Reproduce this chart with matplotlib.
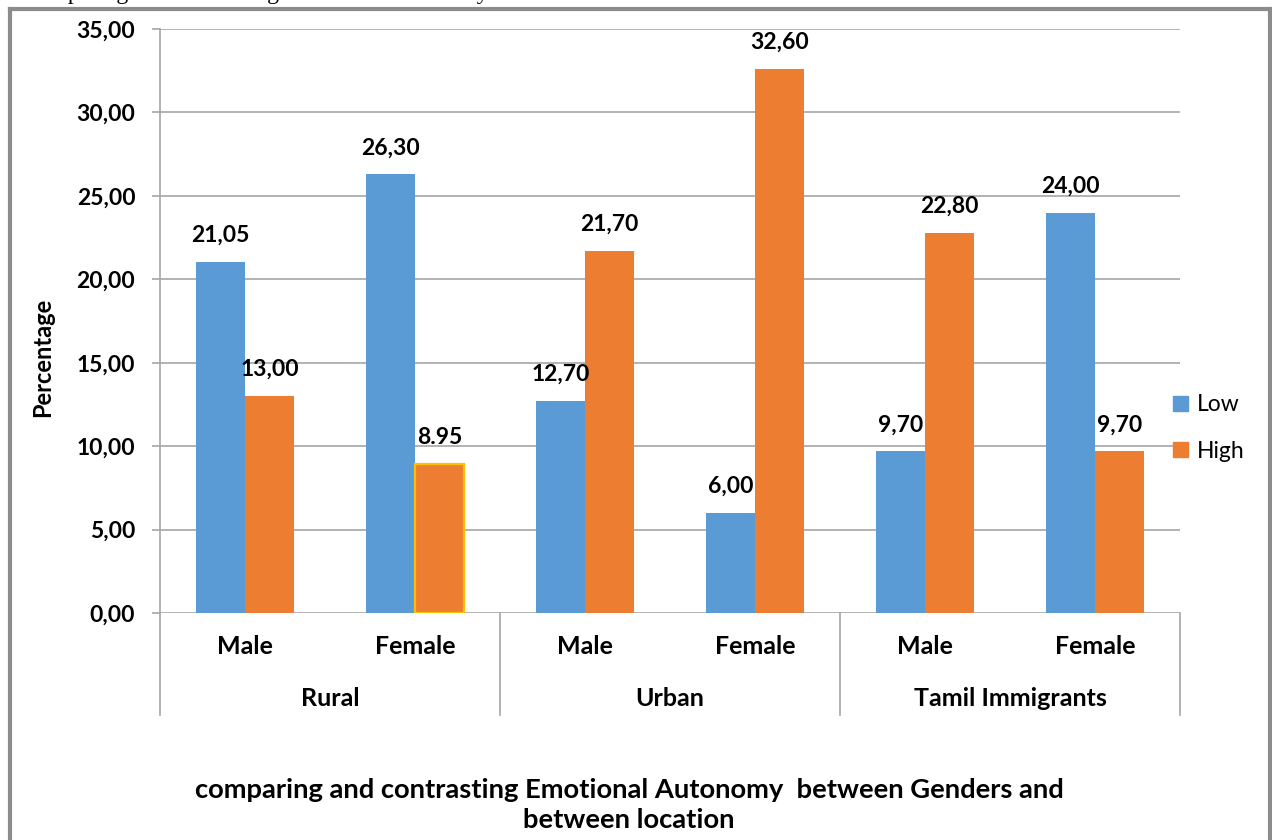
import matplotlib
matplotlib.use("Agg")
import matplotlib.pyplot as plt
from matplotlib.lines import Line2D
from matplotlib.patches import Patch
from matplotlib.transforms import blended_transform_factory

# ---- data -------------------------------------------------------------
genders = ["Male", "Female", "Male", "Female", "Male", "Female"]
locations = ["Rural", "Urban", "Tamil Immigrants"]
low_values = [21.05, 26.30, 12.70, 6.00, 9.70, 24.00]
high_values = [13.00, 8.95, 21.70, 32.60, 22.80, 9.70]
low_labels = ["21,05", "26,30", "12,70", "6,00", "9,70", "24,00"]
high_labels = ["13,00", "8.95", "21,70", "32,60", "22,80", "9,70"]
y_ticks = [0, 5, 10, 15, 20, 25, 30, 35]
y_tick_labels = ["0,00", "5,00", "10,00", "15,00", "20,00", "25,00", "30,00", "35,00"]
series_names = ["Low", "High"]
title_lines = ["comparing and contrasting Emotional Autonomy  between Genders and",
               "between location"]
caption_text = "Comparing and contrasting Emotional Autonomy between Genders and between location"

# ---- style ------------------------------------------------------------
FONT = ["Lato", "DejaVu Sans"]
plt.rcParams["font.family"] = FONT
BLUE = "#5B9BD5"
ORANGE = "#ED7D31"
GOLD = "#FFC000"
GRID = "#A6A6A6"
FRAME = "#8C8C8C"

W, H = 1272, 840
fig = plt.figure(figsize=(W / 100, H / 100), dpi=100)

# plot area in pixel terms
x0, x1 = 160, 1180
y_zero, y_top = 613, 29
ax = fig.add_axes([x0 / W, (H - y_zero) / H, (x1 - x0) / W, (y_zero - y_top) / H])


def ax_frac(py):
    """Pixel row (from top) to axes-fraction y."""
    return (y_zero - py) / (y_zero - y_top)


n = len(genders)
xs = list(range(n))
bw = 0.288
low_x = [x - bw / 2 for x in xs]
high_x = [x + bw / 2 for x in xs]

ax.bar(low_x, low_values, width=bw, color=BLUE, zorder=3)
bars_high = ax.bar(high_x, high_values, width=bw, color=ORANGE, zorder=3)
# highlighted bar
bars_high[1].set_edgecolor(GOLD)
bars_high[1].set_linewidth(1.6)

ax.set_xlim(-0.5, n - 0.5)
ax.set_ylim(0, 35)
ax.set_yticks(y_ticks)
ax.set_yticklabels(y_tick_labels, fontsize=16.5, fontweight="bold")
ax.set_xticks([])
ax.tick_params(axis="y", direction="out", length=5.8, width=1.2, color=GRID, pad=12)

for s in ["top", "right", "bottom"]:
    ax.spines[s].set_visible(False)
ax.spines["left"].set_color(GRID)
ax.spines["left"].set_linewidth(1.2)

ax.yaxis.grid(True, color=GRID, linewidth=1.2, zorder=0)
ax.set_axisbelow(True)

fig.text(43 / W, 1 - 357 / H, "Percentage", rotation=90, ha="center", va="center",
         fontsize=17, fontweight="bold")

# value labels
VAL_FS = 16.5
for xl, v, t in zip(low_x, low_values, low_labels):
    ax.annotate(t, (xl, v), xytext=(0, 19), textcoords="offset points",
                ha="center", va="center", fontsize=VAL_FS, fontweight="bold")
for xh, v, t in zip(high_x, high_values, high_labels):
    ax.annotate(t, (xh, v), xytext=(0, 19), textcoords="offset points",
                ha="center", va="center", fontsize=VAL_FS, fontweight="bold")

# multi-level category axis
trans = blended_transform_factory(ax.transData, ax.transAxes)
for xb in [-0.5, 1.5, 3.5, 5.5]:
    ax.add_line(Line2D([xb, xb], [0, ax_frac(715)], transform=trans, color=GRID,
                       lw=1.2, clip_on=False))
for x, g in zip(xs, genders):
    ax.text(x, ax_frac(647), g, transform=trans,
            ha="center", va="center", fontsize=18, fontweight="bold")
for i, loc in enumerate(locations):
    ax.text(2 * i + 0.5, ax_frac(699), loc, transform=trans,
            ha="center", va="center", fontsize=18, fontweight="bold")

# legend
handles = [Patch(facecolor=BLUE, edgecolor=BLUE), Patch(facecolor=ORANGE, edgecolor=ORANGE)]
fig.legend(handles, series_names, loc="center left",
           bbox_to_anchor=(1152 / W, 1 - 428 / H), frameon=False,
           fontsize=16.5, handlelength=0.66, handleheight=0.66,
           handletextpad=0.4, labelspacing=1.1)

# chart title below plot, one text per line
for line, py in zip(title_lines, [790, 820]):
    fig.text(629 / W, 1 - py / H, line, ha="center", va="center",
             fontsize=19.7, fontweight="bold")

# chart frame
for xa, ya in [([9.5, 9.5], [8.5, 845]), ([1269.5, 1269.5], [8.5, 845]),
               ([9.5, 1269.5], [8.5, 8.5])]:
    fig.add_artist(Line2D([v / W for v in xa], [1 - v / H for v in ya],
                          transform=fig.transFigure, color=FRAME, lw=3.0))

# surrounding document line above the frame
fig.text(22 / W, 1 + 1 / H, caption_text, ha="left", va="baseline",
         fontsize=17, family=["Liberation Serif", "DejaVu Serif"])

fig.savefig("out.png", dpi=100)
